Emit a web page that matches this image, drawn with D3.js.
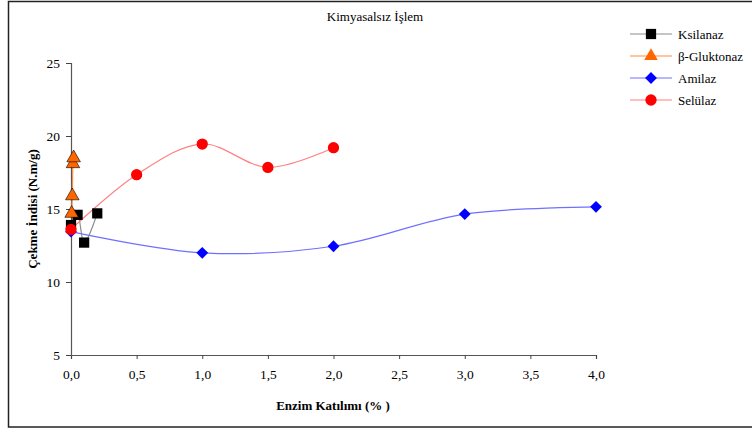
<!DOCTYPE html>
<html>
<head>
<meta charset="utf-8">
<script src="https://cdn.jsdelivr.net/npm/d3@7"></script>
<style>
  body { margin: 0; background: #fff; }
  svg text { font-family: "Liberation Serif", "Times New Roman", "DejaVu Serif", serif !important; fill: #000; }
</style>
</head>
<body>
<div id="viscontainer"></div>
<script>
const width = 752;
const height = 432;

const xTicks = [0, 0.5, 1, 1.5, 2, 2.5, 3, 3.5, 4];
const yTicks = [5, 10, 15, 20, 25];

const ksilanazX = [0, 0.05, 0.1, 0.2];
const ksilanazY = [13.9, 14.6, 12.7, 14.7];

const glukX = [0.005, 0.01, 0.015, 0.02];
const glukY = [14.7, 15.9, 18.1, 18.5];

const amilazX = [0, 1, 2, 3, 4];
const amilazY = [13.45, 12.0, 12.45, 14.65, 15.15];

const selulazX = [0, 0.5, 1, 1.5, 2];
const selulazY = [13.6, 17.35, 19.45, 17.85, 19.2];

const series = [
  { name: "Ksilanaz", xs: ksilanazX, ys: ksilanazY, line: "#8c8c8c", fill: "#000", symbol: d3.symbolSquare, size: 105, rot: 0 },
  { name: "β-Gluktonaz", xs: glukX, ys: glukY, line: "#ff8c3c", fill: "#ff6600", symbol: d3.symbolTriangle, size: 80, rot: 0 },
  { name: "Amilaz", xs: amilazX, ys: amilazY, line: "#7070ff", fill: "#0000ff", symbol: d3.symbolSquare, size: 70, rot: 45 },
  { name: "Selülaz", xs: selulazX, ys: selulazY, line: "#ff8080", fill: "#ff0000", symbol: d3.symbolCircle, size: 100, rot: 0 }
];

const x = d3.scaleLinear().domain([0, 4]).range([71, 596]);
const y = d3.scaleLinear().domain([5, 25]).range([355, 63]);

const svg = d3.select("#viscontainer")
  .append("svg")
  .attr("width", width)
  .attr("height", height);

svg.append("rect")
  .attr("x", 8.5).attr("y", 1.5)
  .attr("width", 760).attr("height", 425.5)
  .attr("fill", "none")
  .attr("stroke", "#222")
  .attr("stroke-width", 1.5);

svg.append("text")
  .attr("x", 375).attr("y", 21)
  .attr("text-anchor", "middle")
  .attr("font-size", 13)
  .text("Kimyasalsız İşlem");

const xAxis = svg.append("g")
  .attr("transform", `translate(0,${y(5)})`)
  .call(d3.axisBottom(x).tickValues(xTicks).tickSize(4).tickPadding(10)
    .tickFormat(d => d3.format(".1f")(d).replace(".", ",")));

const yAxis = svg.append("g")
  .attr("transform", `translate(${x(0)},0)`)
  .call(d3.axisLeft(y).tickValues(yTicks).tickSize(5).tickPadding(6));

[xAxis, yAxis].forEach(g => {
  g.select(".domain").attr("stroke", "#555").attr("stroke-width", 1.2);
  g.selectAll(".tick line").attr("stroke", "#444");
  g.selectAll(".tick text").attr("font-size", 13.5);
});

svg.append("text")
  .attr("x", 333).attr("y", 410)
  .attr("text-anchor", "middle")
  .attr("font-size", 13)
  .attr("font-weight", "bold")
  .text("Enzim Katılımı (% )");

svg.append("text")
  .attr("transform", "translate(37,209) rotate(-90)")
  .attr("text-anchor", "middle")
  .attr("font-size", 13)
  .attr("font-weight", "bold")
  .text("Çekme İndisi (N.m/g)");

const line = d3.line()
  .x(d => x(d[0]))
  .y(d => y(d[1]))
  .curve(d3.curveCatmullRom.alpha(0.5));

series.forEach(s => {
  const pts = s.xs.map((v, i) => [v, s.ys[i]]);
  svg.append("path")
    .datum(pts)
    .attr("d", line)
    .attr("fill", "none")
    .attr("stroke", s.line)
    .attr("stroke-width", 1.2);
});

series.forEach(s => {
  const pts = s.xs.map((v, i) => [v, s.ys[i]]);
  svg.selectAll(null)
    .data(pts)
    .join("path")
    .attr("transform", d => `translate(${x(d[0])},${y(d[1])}) rotate(${s.rot})`)
    .attr("d", d3.symbol().type(s.symbol).size(s.size))
    .attr("fill", s.fill)
    .attr("stroke", s.symbol === d3.symbolTriangle ? "#000" : "none")
    .attr("stroke-width", 0.6);
});

const legend = svg.append("g");
series.forEach((s, i) => {
  const ly = 34 + i * 22;
  legend.append("line")
    .attr("x1", 630).attr("x2", 672)
    .attr("y1", ly).attr("y2", ly)
    .attr("stroke", s.line).attr("stroke-width", 1.2);
  legend.append("path")
    .attr("transform", `translate(651,${ly}) rotate(${s.rot})`)
    .attr("d", d3.symbol().type(s.symbol).size(s.size))
    .attr("fill", s.fill);
  legend.append("text")
    .attr("x", 678).attr("y", ly + 4.5)
    .attr("font-size", 13)
    .text(s.name);
});
</script>
</body>
</html>
